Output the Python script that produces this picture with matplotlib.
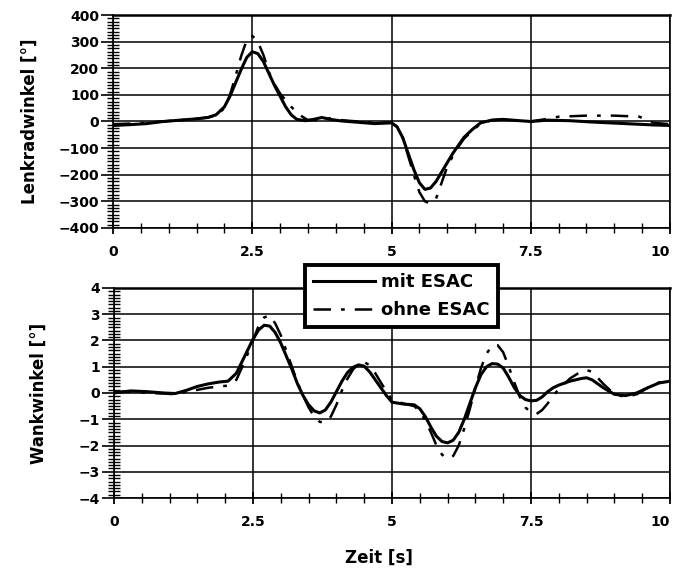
import matplotlib.pyplot as plt
from matplotlib.ticker import MultipleLocator
import numpy as np

plt.rcParams['font.family'] = ['DejaVu Sans']
plt.rcParams['font.weight'] = 'bold'

# Lenkradwinkel, mit ESAC
t_lw_mit = [0, 0.3, 0.6, 0.9, 1.2, 1.5, 1.7, 1.85, 2.0, 2.1, 2.2, 2.3, 2.4, 2.5,
            2.6, 2.7, 2.8, 2.9, 3.0, 3.1, 3.2, 3.3, 3.45, 3.6, 3.75, 3.9, 4.1, 4.4,
            4.7, 5.0, 5.1, 5.2, 5.3, 5.4, 5.5, 5.6, 5.7, 5.8, 5.9, 6.0, 6.1, 6.2,
            6.3, 6.45, 6.6, 6.8, 7.0, 7.3, 7.5, 7.8, 8.2, 8.6, 9.0, 9.4, 9.7, 10]
lw_mit = [-15, -12, -8, 0, 5, 10, 15, 25, 55, 95, 145, 195, 240, 262,
          255, 225, 180, 135, 95, 55, 25, 8, 3, 8, 15, 8, 2, -3,
          -8, -5, -20, -60, -120, -180, -230, -255, -250, -225, -190, -155, -120, -90,
          -60, -30, -5, 5, 8, 3, 0, 5, 3, -2, -6, -10, -13, -15]

# Lenkradwinkel, ohne ESAC
t_lw_ohne = [0, 0.3, 0.6, 0.9, 1.2, 1.5, 1.7, 1.85, 2.0, 2.1, 2.2, 2.3, 2.4, 2.5,
             2.6, 2.7, 2.8, 2.9, 3.0, 3.1, 3.2, 3.3, 3.4, 3.5, 3.7, 3.9, 4.1, 4.4,
             4.7, 5.0, 5.1, 5.2, 5.3, 5.4, 5.5, 5.6, 5.7, 5.8, 5.9, 6.0, 6.1, 6.2,
             6.3, 6.45, 6.6, 6.8, 7.0, 7.3, 7.5, 7.8, 8.0, 8.5, 9.0, 9.45, 9.7, 10]
lw_ohne = [-10, -8, -5, 0, 5, 10, 15, 22, 50, 100, 170, 245, 305, 322,
           300, 250, 185, 140, 105, 80, 55, 35, 18, 5, 5, 12, 5, 0,
           -5, -5, -20, -60, -130, -200, -265, -300, -308, -290, -230, -170, -130, -95,
           -65, -35, -8, 5, 8, 3, 0, 10, 18, 22, 22, 18, -5, -10]

# Wankwinkel
t_wk = [0, 0.3, 0.6, 0.9, 1.1, 1.3, 1.5, 1.7, 1.9, 2.05, 2.2, 2.35, 2.5, 2.6,
        2.7, 2.8, 2.9, 3.0, 3.1, 3.2, 3.3, 3.4, 3.5, 3.6, 3.7, 3.8, 3.9, 4.0,
        4.1, 4.2, 4.3, 4.4, 4.5, 4.6, 4.7, 4.8, 4.9, 5.0, 5.2, 5.4, 5.5, 5.6,
        5.7, 5.8, 5.9, 6.0, 6.1, 6.2, 6.3, 6.4, 6.5, 6.6, 6.7, 6.8, 6.9, 7.0,
        7.1, 7.2, 7.3, 7.4, 7.5, 7.6, 7.7, 7.8, 7.9, 8.0, 8.2, 8.4, 8.5, 8.6,
        8.8, 9.0, 9.2, 9.4, 9.6, 9.8, 10]
wk_mit = [0, 0.08, 0.05, 0, -0.02, 0.1, 0.25, 0.35, 0.42, 0.45, 0.75, 1.4, 2.05, 2.4,
          2.58, 2.55, 2.3, 1.9, 1.4, 0.9, 0.35, -0.1, -0.45, -0.68, -0.76, -0.65, -0.35, 0.05,
          0.45, 0.78, 0.98, 1.07, 1.02, 0.8, 0.5, 0.2, -0.1, -0.35, -0.42, -0.45, -0.6, -0.9,
          -1.3, -1.65, -1.85, -1.9, -1.8, -1.5, -1.0, -0.4, 0.2, 0.7, 1.0, 1.12, 1.1, 0.95,
          0.6, 0.2, -0.1, -0.25, -0.3, -0.28, -0.15, 0.05, 0.2, 0.3, 0.45, 0.55, 0.58, 0.5,
          0.2, -0.05, -0.1, 0.0, 0.2, 0.38, 0.45]
wk_ohne = [0.05, 0.05, 0.0, -0.02, -0.05, 0.05, 0.12, 0.2, 0.25, 0.28, 0.5, 1.2, 2.0, 2.55,
           2.88, 2.95, 2.65, 2.2, 1.6, 1.0, 0.4, -0.1, -0.55, -0.9, -1.1, -1.12, -0.9, -0.45,
           0.1, 0.55, 0.9, 1.1, 1.18, 1.05, 0.75, 0.4, 0.05, -0.25, -0.4, -0.5, -0.7, -1.05,
           -1.5, -2.0, -2.35, -2.5, -2.4, -2.0, -1.35, -0.6, 0.2, 0.95, 1.5, 1.8, 1.82, 1.55,
           1.0, 0.4, -0.15, -0.55, -0.75, -0.8, -0.65, -0.4, -0.1, 0.15, 0.55, 0.82, 0.88, 0.8,
           0.35, -0.05, -0.15, -0.05, 0.2, 0.4, 0.45]

x_ticks = [0, 2.5, 5, 7.5, 10]
x_labels = ['0', '2.5', '5', '7.5', '10']

dash = (0, (7, 4, 1.5, 4))

fig = plt.figure(figsize=(6.75, 5.77), dpi=100)
ax1 = fig.add_axes([0.1674, 0.6049, 0.8252, 0.3691])
ax2 = fig.add_axes([0.1689, 0.1369, 0.8237, 0.3640])


def style(ax, ymax, ystep, yminor):
    ax.set_xlim(0, 10)
    ax.set_ylim(-ymax, ymax)
    ax.set_xticks(x_ticks)
    ax.set_xticklabels(x_labels)
    ax.get_xticklabels()[-1].set_horizontalalignment('right')
    ax.xaxis.set_minor_locator(MultipleLocator(0.5))
    ax.yaxis.set_major_locator(MultipleLocator(ystep))
    ax.yaxis.set_minor_locator(MultipleLocator(yminor))
    ax.grid(True, which='major', color='black', linewidth=1.1)
    ax.tick_params(axis='y', which='major', direction='out', length=9, width=1.2,
                   labelsize=10, pad=1)
    ax.tick_params(axis='y', which='minor', direction='inout', length=8, width=1.0)
    ax.tick_params(axis='x', which='major', direction='inout', length=9, width=1.3,
                   labelsize=10, pad=8)
    ax.tick_params(axis='x', which='minor', direction='inout', length=7, width=1.0)
    for s in ax.spines.values():
        s.set_linewidth(1.2)
    ax.spines['top'].set_linewidth(1.8)


ax1.plot(t_lw_mit, lw_mit, color='black', lw=2.2, label='mit ESAC')
ax1.plot(t_lw_ohne, lw_ohne, color='black', lw=1.8, linestyle=dash, label='ohne ESAC')
style(ax1, 400, 100, 12.5)
ax1.set_ylabel('Lenkradwinkel [°]', fontsize=12, fontweight='bold', labelpad=14)

ax2.plot(t_wk, wk_mit, color='black', lw=2.2)
ax2.plot(t_wk, wk_ohne, color='black', lw=1.8, linestyle=dash)
style(ax2, 4, 1, 0.125)
ax2.set_ylabel('Wankwinkel [°]', fontsize=12, fontweight='bold', labelpad=22)

fig.text(0.561, 0.017, 'Zeit [s]', fontsize=12, fontweight='bold', ha='center', va='bottom')

handles, labels = ax1.get_legend_handles_labels()
leg = fig.legend(handles, labels, loc='upper left', bbox_to_anchor=(0.452, 0.541),
                 borderaxespad=0, fancybox=False, framealpha=1, edgecolor='black',
                 handlelength=3.4, prop={'size': 13, 'weight': 'bold'}, borderpad=0.45,
                 labelspacing=0.55, handletextpad=0.35)
leg.get_frame().set_linewidth(2.8)

fig.savefig('out.png', dpi=100)
